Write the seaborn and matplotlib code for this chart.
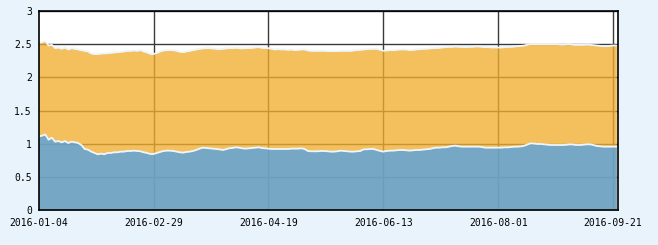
import numpy as np
import pandas as pd
import matplotlib
matplotlib.use("Agg")
import matplotlib.pyplot as plt
import seaborn as sns

# ---- data ----
blue_values = [
    1.11, 1.12, 1.14, 1.06, 1.09, 1.03, 1.04, 1.02, 1.04, 1.01,
    1.03, 1.02, 1.01, 0.98, 0.92, 0.91, 0.88, 0.86, 0.84, 0.85,
    0.84, 0.86, 0.86, 0.87, 0.87, 0.88, 0.88, 0.89, 0.89, 0.895,
    0.89, 0.885, 0.87, 0.86, 0.845, 0.845, 0.86, 0.875, 0.89, 0.895,
    0.895, 0.89, 0.88, 0.87, 0.865, 0.875, 0.88, 0.89, 0.905, 0.925,
    0.94, 0.935, 0.93, 0.925, 0.92, 0.915, 0.905, 0.915, 0.93, 0.935,
    0.945, 0.94, 0.93, 0.925, 0.93, 0.935, 0.94, 0.945, 0.935, 0.93,
    0.925, 0.92, 0.92, 0.92, 0.92, 0.92, 0.92, 0.925, 0.925, 0.925,
    0.93, 0.92, 0.89, 0.885, 0.885, 0.885, 0.89, 0.89, 0.885, 0.88,
    0.88, 0.885, 0.895, 0.89, 0.885, 0.88, 0.88, 0.885, 0.89, 0.915,
    0.915, 0.92, 0.92, 0.905, 0.89, 0.88, 0.89, 0.895, 0.895, 0.90,
    0.905, 0.905, 0.90, 0.895, 0.90, 0.905, 0.905, 0.91, 0.915, 0.92,
    0.93, 0.94, 0.94, 0.945, 0.945, 0.955, 0.965, 0.97, 0.96, 0.955,
    0.955, 0.955, 0.955, 0.955, 0.955, 0.95, 0.94, 0.94, 0.94, 0.94,
    0.94, 0.94, 0.945, 0.945, 0.95, 0.955, 0.955, 0.96, 0.97, 0.99,
    1.005, 1.0, 0.995, 0.995, 0.99, 0.985, 0.98, 0.98, 0.98, 0.98,
    0.98, 0.985, 0.99, 0.985, 0.98, 0.98, 0.985, 0.99, 0.99, 0.98,
    0.965, 0.96, 0.955, 0.955, 0.955, 0.955, 0.955,
]
total_values = [
    2.52, 2.53, 2.55, 2.48, 2.49, 2.44, 2.45, 2.43, 2.45, 2.42,
    2.44, 2.43, 2.42, 2.41, 2.40, 2.39, 2.36, 2.35, 2.35, 2.36,
    2.36, 2.365, 2.37, 2.375, 2.38, 2.385, 2.39, 2.40, 2.40, 2.405,
    2.40, 2.41, 2.39, 2.375, 2.355, 2.35, 2.37, 2.39, 2.405, 2.41,
    2.41, 2.41, 2.40, 2.385, 2.38, 2.39, 2.40, 2.41, 2.42, 2.43,
    2.435, 2.44, 2.44, 2.435, 2.43, 2.425, 2.43, 2.435, 2.44, 2.44,
    2.445, 2.44, 2.435, 2.44, 2.44, 2.445, 2.45, 2.455, 2.445, 2.44,
    2.44, 2.43, 2.42, 2.425, 2.42, 2.42, 2.415, 2.42, 2.41, 2.415,
    2.42, 2.42, 2.405, 2.40, 2.40, 2.40, 2.40, 2.40, 2.395, 2.395,
    2.395, 2.395, 2.40, 2.40, 2.40, 2.40, 2.405, 2.41, 2.415, 2.42,
    2.425, 2.43, 2.43, 2.43, 2.415, 2.40, 2.405, 2.41, 2.41, 2.415,
    2.42, 2.42, 2.42, 2.41, 2.415, 2.42, 2.425, 2.43, 2.43, 2.435,
    2.44, 2.44, 2.445, 2.45, 2.455, 2.46, 2.46, 2.465, 2.46, 2.46,
    2.455, 2.46, 2.46, 2.465, 2.465, 2.46, 2.455, 2.455, 2.45, 2.45,
    2.45, 2.45, 2.455, 2.46, 2.46, 2.465, 2.47, 2.475, 2.48, 2.495,
    2.50, 2.50, 2.50, 2.50, 2.50, 2.50, 2.50, 2.50, 2.50, 2.495,
    2.495, 2.50, 2.50, 2.49, 2.49, 2.49, 2.49, 2.495, 2.49, 2.485,
    2.48, 2.475, 2.47, 2.47, 2.475, 2.48, 2.48,
]
tick_positions = [0, 35, 70, 105, 140, 175]
tick_labels = ["2016-01-04", "2016-02-29", "2016-04-19",
               "2016-06-13", "2016-08-01", "2016-09-21"]
y_ticks = [0, 0.5, 1, 1.5, 2, 2.5, 3]
y_labels = ["0", "0.5", "1", "1.5", "2", "2.5", "3"]

blue = np.array(blue_values)
total = np.array(total_values)
x = np.arange(len(blue))
df = pd.DataFrame({"x": x, "blue": blue, "total": total})

# ---- style ----
sns.set_style("white")
plt.rcParams["font.family"] = ["DejaVu Sans Mono", "DejaVu Sans"]

BG = "#e8f3fc"
fig = plt.figure(figsize=(6.58, 2.45), dpi=100, facecolor=BG)
ax = fig.add_axes([38.7 / 658, 35 / 245, (618 - 38.7) / 658, (210 - 11) / 245])
ax.set_facecolor("white")

# grid beneath the semi-transparent areas
for yv in y_ticks[1:]:
    ax.axhline(yv, color="#3a3a3a", lw=1, zorder=1)
for xv in tick_positions[1:]:
    ax.axvline(xv, color="#3a3a3a", lw=1, zorder=1)

# both areas start at zero: orange up to the total, blue on top of it
ax.fill_between(x, 0, total, color="#f1ae30", alpha=0.78, linewidth=0, zorder=2)
ax.fill_between(x, 0, blue, color="#53a2e4", alpha=0.78, linewidth=0, zorder=2.5)
sns.lineplot(data=df, x="x", y="blue", ax=ax, color="#eef6fd", lw=1.3, zorder=3)
sns.lineplot(data=df, x="x", y="total", ax=ax, color="#eef6fd", lw=1.3, zorder=3)

ax.set_xlim(0, len(x) - 1 + 0.5)
ax.set_ylim(0, 3)
ax.set_xticks(tick_positions)
ax.set_xticklabels(tick_labels)
ax.set_yticks(y_ticks)
ax.set_yticklabels(y_labels)
ax.set_xlabel("")
ax.set_ylabel("")
ax.tick_params(axis="both", labelsize=7, colors="black", length=3, width=1,
               direction="out", pad=2)
ax.tick_params(axis="x", length=4)
for s in ax.spines.values():
    s.set_visible(True)
    s.set_color("black")
    s.set_linewidth(1.2)
    s.set_zorder(5)

fig.savefig("out.png", dpi=100, facecolor=BG)
